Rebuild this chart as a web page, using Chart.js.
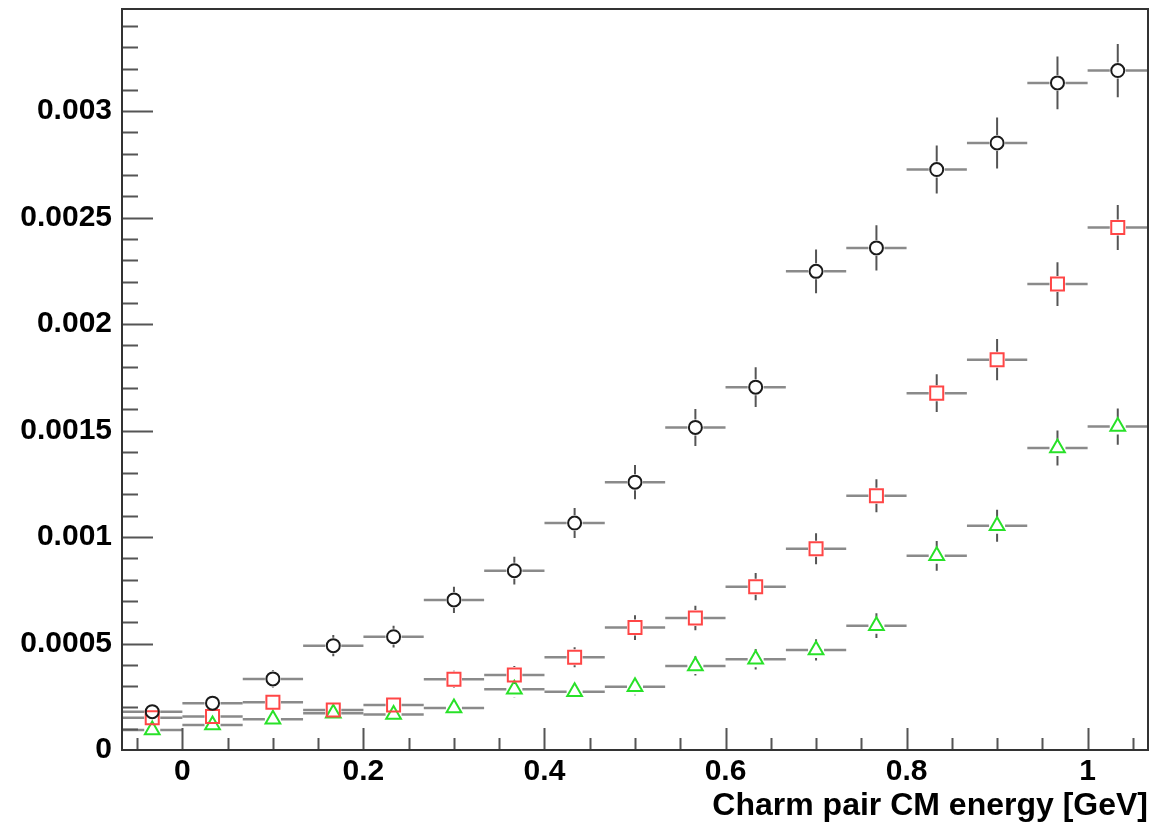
<!DOCTYPE html>
<html>
<head>
<meta charset="utf-8">
<script src="https://cdn.jsdelivr.net/npm/chart.js@4/dist/chart.umd.min.js"></script>
<style>
  body { margin: 0; background: #fff; }
  #chartcontainer { display: block; }
</style>
</head>
<body>
<canvas id="chartcontainer" width="1154" height="828"></canvas>
<script>
// bin centres (GeV) and half width of a bin
var binCentres = [-0.0333, 0.0333, 0.1, 0.1667, 0.2333, 0.3, 0.3667, 0.4333, 0.5,
                  0.5667, 0.6333, 0.7, 0.7667, 0.8333, 0.9, 0.9667, 1.0333];
var binHalf = 0.0333;

// black circles
var circleVals = [0.00018, 0.00022, 0.000334, 0.00049, 0.000532, 0.000705, 0.000842, 0.001066, 0.001258,
                  0.001515, 0.001704, 0.002248, 0.002358, 0.002726, 0.002851, 0.003133, 0.003191];
var circleErrs = [0.00003, 0.000033, 0.00004, 0.00005, 0.000051, 0.000062, 0.000065, 0.00007, 0.00008,
                  0.000087, 0.000093, 0.000103, 0.000106, 0.000113, 0.00012, 0.000124, 0.000125];

// red squares
var squareVals = [0.000152, 0.000157, 0.000224, 0.000188, 0.000211, 0.000332, 0.000352, 0.000436, 0.000575,
                  0.00062, 0.000767, 0.000945, 0.001194, 0.001676, 0.001833, 0.002188, 0.002454];
var squareErrs = [0.000028, 0.000028, 0.000033, 0.00003, 0.000032, 0.00004, 0.000042, 0.000047, 0.000058,
                  0.000058, 0.000064, 0.000073, 0.000077, 0.000089, 0.000097, 0.000103, 0.000106];

// green triangles
var triangleVals = [0.000094, 0.000117, 0.000144, 0.000173, 0.000167, 0.000197, 0.000285, 0.000274, 0.000297,
                    0.000395, 0.000426, 0.00047, 0.000584, 0.000912, 0.001053, 0.001418, 0.001519];
var triangleErrs = [0.000022, 0.000024, 0.000027, 0.00003, 0.00003, 0.000032, 0.000038, 0.000038, 0.00004,
                    0.000045, 0.000048, 0.00005, 0.000058, 0.00007, 0.000075, 0.000082, 0.000085];

var xTicks = [0, 0.2, 0.4, 0.6, 0.8, 1];
var xTickLabels = ["0", "0.2", "0.4", "0.6", "0.8", "1"];
var yTicks = [0, 0.0005, 0.001, 0.0015, 0.002, 0.0025, 0.003];
var yTickLabels = ["0", "0.0005", "0.001", "0.0015", "0.002", "0.0025", "0.003"];

var xMin = -0.0667, xMax = 1.0667;
var yMin = 0, yMax = 0.00348;

function toPoints(vals) {
    var pts = [];
    for (var i = 0; i < vals.length; i++) {
        pts.push({x: binCentres[i], y: vals[i]});
    }
    return pts;
}

// error bars, drawn below the markers, with a gap round each marker (root style)
var errorBars = {
    id: 'errorBars',
    beforeDatasetsDraw: function(chart) {
        var ctx = chart.ctx;
        var xs = chart.scales.x, ys = chart.scales.y;
        ctx.save();
        chart.data.datasets.forEach(function(ds) {
            var gap = ds.gap;
            for (var i = 0; i < ds.data.length; i++) {
                var px = xs.getPixelForValue(ds.data[i].x);
                var py = ys.getPixelForValue(ds.data[i].y);
                var xl = xs.getPixelForValue(ds.data[i].x - binHalf);
                var xr = xs.getPixelForValue(ds.data[i].x + binHalf);
                ctx.strokeStyle = '#8a8a8a';
                ctx.lineWidth = 2.5;
                ctx.beginPath();
                ctx.moveTo(xl, py); ctx.lineTo(px - gap, py);
                ctx.moveTo(px + gap, py); ctx.lineTo(xr, py);
                ctx.stroke();
                var yt = ys.getPixelForValue(ds.data[i].y + ds.errs[i]);
                var yb = ys.getPixelForValue(ds.data[i].y - ds.errs[i]);
                if (py - yt > gap) {
                    ctx.strokeStyle = '#555';
                    ctx.lineWidth = 2;
                    ctx.beginPath();
                    ctx.moveTo(px, yt); ctx.lineTo(px, py - gap);
                    ctx.moveTo(px, py + gap); ctx.lineTo(px, yb);
                    ctx.stroke();
                }
            }
        });
        ctx.restore();
    },
    afterDraw: function(chart) {
        var ctx = chart.ctx;
        var a = chart.chartArea;
        var xs = chart.scales.x, ys = chart.scales.y;
        ctx.save();
        ctx.strokeStyle = '#555';
        ctx.lineWidth = 2;
        ctx.beginPath();
        // y ticks, inward, minor every 0.0001
        for (var k = 1; k <= 34; k++) {
            var v = k * 0.0001;
            var y = Math.round(ys.getPixelForValue(v)) + 0.5;
            var len = (k % 5 == 0) ? 31 : 16;
            ctx.moveTo(a.left, y); ctx.lineTo(a.left + len, y);
        }
        // x ticks, inward, minor every 0.05
        for (var j = -1; j <= 21; j++) {
            var xv = j * 0.05;
            var x = Math.round(xs.getPixelForValue(xv)) + 0.5;
            var xlen = (j % 4 == 0) ? 22 : 12;
            ctx.moveTo(x, a.bottom); ctx.lineTo(x, a.bottom - xlen);
        }
        ctx.stroke();
        // frame
        ctx.strokeStyle = '#333';
        ctx.lineWidth = 2;
        ctx.strokeRect(a.left, a.top, a.right - a.left, a.bottom - a.top);
        ctx.restore();
    }
};

var data_for_chart = {
    datasets: [
        {
            label: 'circles',
            data: toPoints(circleVals),
            errs: circleErrs,
            gap: 8,
            pointStyle: 'circle',
            pointRadius: 6.5,
            borderColor: '#1a1a1a',
            backgroundColor: 'rgba(0,0,0,0)',
            pointBorderWidth: 2,
            showLine: false
        },
        {
            label: 'squares',
            data: toPoints(squareVals),
            errs: squareErrs,
            gap: 8,
            pointStyle: 'rect',
            pointRadius: 9.2,
            borderColor: 'rgb(255,70,70)',
            backgroundColor: 'rgba(0,0,0,0)',
            pointBorderWidth: 2,
            showLine: false
        },
        {
            label: 'triangles',
            data: toPoints(triangleVals),
            errs: triangleErrs,
            gap: 8,
            pointStyle: 'triangle',
            pointRadius: 8.5,
            borderColor: 'rgb(40,225,40)',
            backgroundColor: 'rgba(0,0,0,0)',
            pointBorderWidth: 2,
            showLine: false
        }
    ]
};

var fontFamily = '"Liberation Sans", Arial, Helvetica, sans-serif';
var tickFont = {family: fontFamily, size: 30, weight: 'bold'};
var titleFont = {family: fontFamily, size: 32, weight: 'bold'};

var options = {
    responsive: false,
    animation: false,
    devicePixelRatio: 1,
    layout: {autoPadding: false, padding: {top: 9, right: 6, left: 0, bottom: 0}},
    plugins: {
        legend: {display: false},
        tooltip: {enabled: false}
    },
    scales: {
        x: {
            type: 'linear',
            min: xMin,
            max: xMax,
            grid: {display: false, drawTicks: false},
            border: {display: false},
            afterBuildTicks: function(axis) {
                axis.ticks = xTicks.map(function(v) { return {value: v}; });
            },
            afterFit: function(axis) {
                axis.height = 78;
                axis.paddingLeft = 0;
                axis.paddingRight = 0;
            },
            ticks: {
                padding: 4,
                color: '#000',
                font: tickFont,
                maxRotation: 0,
                callback: function(v, i) { return xTickLabels[i]; }
            },
            title: {
                display: true,
                text: 'Charm pair CM energy [GeV]',
                align: 'end',
                color: '#000',
                font: titleFont,
                padding: {top: 0, bottom: 3}
            }
        },
        y: {
            type: 'linear',
            min: yMin,
            max: yMax,
            grid: {display: false, drawTicks: false},
            border: {display: false},
            afterBuildTicks: function(axis) {
                axis.ticks = yTicks.map(function(v) { return {value: v}; });
            },
            afterFit: function(axis) {
                axis.width = 122;
                axis.paddingTop = 0;
                axis.paddingBottom = 0;
            },
            ticks: {
                padding: 10,
                color: '#000',
                font: tickFont,
                callback: function(v, i) { return yTickLabels[i]; }
            }
        }
    }
};

var ctx = document.getElementById('chartcontainer').getContext('2d');
var chart = new Chart(ctx, {
    type: 'scatter',
    data: data_for_chart,
    options: options,
    plugins: [errorBars]
});
</script>
</body>
</html>
